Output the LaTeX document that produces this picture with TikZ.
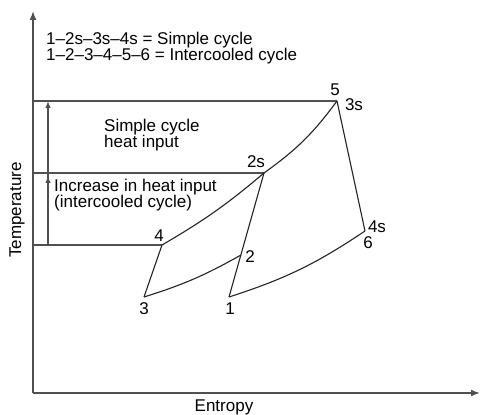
\documentclass[tikz,border=0pt]{standalone}
\usepackage{fontspec}
\setmainfont{Liberation Sans}
\usepackage{tikz}
\usetikzlibrary{arrows.meta,positioning,calc}
\usepackage{xcolor}
\definecolor{LineGray}{RGB}{35,35,35}
\definecolor{AxisGray}{RGB}{80,80,80}
\tikzset{
  axis/.style={draw=AxisGray, line width=1.6pt, -{Latex[length=9pt,width=7pt]}},
  cycleline/.style={draw=LineGray, line width=1.1pt},
  guide/.style={draw=AxisGray, line width=1.3pt},
  heatarrow/.style={draw=AxisGray, line width=1.3pt, -{Latex[length=7pt,width=5.5pt]}},
  numlbl/.style={inner sep=1pt, font=\fontsize{17}{17}\selectfont, text=black},
  note/.style={inner sep=0pt, align=left, font=\fontsize{17}{16.5}\selectfont, text=black}
}

\begin{document}
\begin{tikzpicture}[x=1pt,y=1pt]
      \useasboundingbox (0,0) rectangle (480,415);
      % axes
      \coordinate (O) at (33,22);
      \coordinate (ytop) at (33,404);
      \coordinate (xend) at (480,22);
      \draw[axis] (O) -- (ytop);
      \draw[axis] (O) -- (xend);
      \node[note, rotate=90] (tlabel) at (17,205) {Temperature};
      \node[note] (slabel) at (224,8) {Entropy};
      % state points
      \coordinate (p1) at (229,118);
      \coordinate (p2) at (241,160);
      \coordinate (p2s) at (264,242);
      \coordinate (p3) at (144,118);
      \coordinate (p4) at (162,170);
      \coordinate (p5) at (337,314);
      \coordinate (p6) at (365,184);
      % temperature levels
      \draw[guide] (p5 -| O) -- (p5);
      \draw[guide] (p2s -| O) -- (p2s);
      \draw[guide] (p4 -| O) -- (p4);
      \coordinate (hbase) at (48,170);
      \draw[heatarrow] (hbase) -- (hbase |- p5);
      \draw[heatarrow] (hbase) -- ($(hbase |- p2s)+(0,-3)$);
      % cycle lines
      \draw[cycleline] (p1) -- (p2s);
      \draw[cycleline] (p3) -- (p4);
      \draw[cycleline] (p5) -- (p6);
      \draw[cycleline] (p4) to[bend right=5] (p2s);
      \draw[cycleline] (p2s) to[bend right=9] (p5);
      \draw[cycleline] (p3) to[bend right=6] (p2);
      \draw[cycleline] (p1) to[bend right=8] (p6);
      % point labels
      \node[numlbl] (l5) at (335,325) {5};
      \node[numlbl] (l3s) at (354,310) {3s};
      \node[numlbl] (l2s) at (256,253) {2s};
      \node[numlbl] (l4) at (159,179) {4};
      \node[numlbl] (l2) at (250,158) {2};
      \node[numlbl] (l3) at (144,106) {3};
      \node[numlbl] (l1) at (230,106) {1};
      \node[numlbl] (l4s) at (377,188) {4s};
      \node[numlbl] (l6) at (368,172) {6};
      % texts
      \node[note, anchor=west] (legend) at (46,367) {1\textendash2s\textendash3s\textendash4s = Simple cycle\\1\textendash2\textendash3\textendash4\textendash5\textendash6 = Intercooled cycle};
      \node[note, anchor=west] (simple) at (104,280) {Simple cycle\\heat input};
      \node[note, anchor=west] (increase) at (54,220) {Increase in heat input\\(intercooled cycle)};
    \end{tikzpicture}
\end{document}
